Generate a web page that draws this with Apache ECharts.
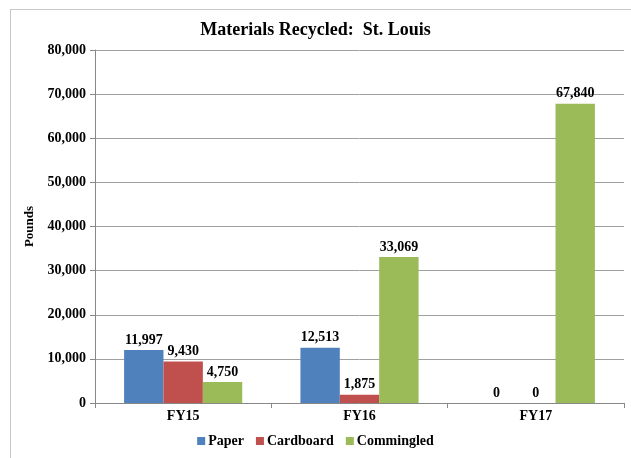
<!DOCTYPE html>
<html>
<head>
<meta charset="utf-8">
<script src="https://cdn.jsdelivr.net/npm/echarts@6/dist/echarts.min.js"></script>
<style>
    html, body { margin: 0; padding: 0; background: #fff; overflow: hidden; width: 631px; height: 458px; }
    #frame {
        position: absolute; left: 10px; top: 9px;
        width: 640px; height: 470px;
        border: 1px solid #c8c8c8; box-sizing: border-box;
    }
    #chart { position: absolute; left: 0; top: 0; width: 631px; height: 458px; }
</style>
</head>
<body>
<div id="frame"></div>
<div id="chart"></div>
<script>
    var categories = ['FY15', 'FY16', 'FY17'];
    var paper = [11997, 12513, 0];
    var cardboard = [9430, 1875, 0];
    var commingled = [4750, 33069, 67840];
    var seriesNames = ['Paper', 'Cardboard', 'Commingled'];

    var font = '"Liberation Serif", "Times New Roman", serif';
    var fmt = function (v) { return Number(v).toLocaleString('en-US'); };

    var labelStyle = {
        show: true,
        position: 'top',
        distance: 3,
        fontFamily: font,
        fontWeight: 'bold',
        fontSize: 14,
        color: '#000',
        formatter: function (p) { return fmt(p.value); }
    };

    var myChart = echarts.init(document.getElementById('chart'));
    var option = {
        animation: false,
        title: {
            text: 'Materials Recycled:  St. Louis',
            left: 'center',
            top: 16,
            textStyle: { fontFamily: font, fontWeight: 'bold', fontSize: 18, color: '#000' }
        },
        legend: {
            bottom: 5,
            left: 'center',
            itemWidth: 8,
            itemHeight: 8,
            itemGap: 12,
            icon: 'rect',
            textStyle: { fontFamily: font, fontWeight: 'bold', fontSize: 14, color: '#000', padding: [0, 0, 0, -2] },
            data: seriesNames
        },
        grid: { left: 95, right: 7, top: 50, bottom: 55 },
        xAxis: {
            type: 'category',
            data: categories,
            axisLine: { lineStyle: { color: '#888' } },
            axisTick: { show: true, length: 5, lineStyle: { color: '#888' } },
            axisLabel: { fontFamily: font, fontWeight: 'bold', fontSize: 14, color: '#000', margin: 6 }
        },
        yAxis: {
            type: 'value',
            min: 0,
            max: 80000,
            interval: 10000,
            name: 'Pounds',
            nameLocation: 'middle',
            nameGap: 54,
            nameTextStyle: { fontFamily: font, fontWeight: 'bold', fontSize: 13, color: '#000' },
            axisLine: { show: true, lineStyle: { color: '#888' } },
            axisTick: { show: true, length: 5, lineStyle: { color: '#888' } },
            axisLabel: {
                fontFamily: font, fontWeight: 'bold', fontSize: 14, color: '#000', margin: 9,
                formatter: function (v) { return fmt(v); }
            },
            splitLine: { lineStyle: { color: '#a0a0a0', width: 1 } }
        },
        series: [
            { name: 'Paper', type: 'bar', data: paper, barGap: '0%', barCategoryGap: '33%',
              itemStyle: { color: '#4f81bd' }, label: labelStyle },
            { name: 'Cardboard', type: 'bar', data: cardboard,
              itemStyle: { color: '#c0504d' }, label: labelStyle },
            { name: 'Commingled', type: 'bar', data: commingled,
              itemStyle: { color: '#9bbb59' }, label: labelStyle }
        ]
    };
    myChart.setOption(option);
</script>
</body>
</html>
